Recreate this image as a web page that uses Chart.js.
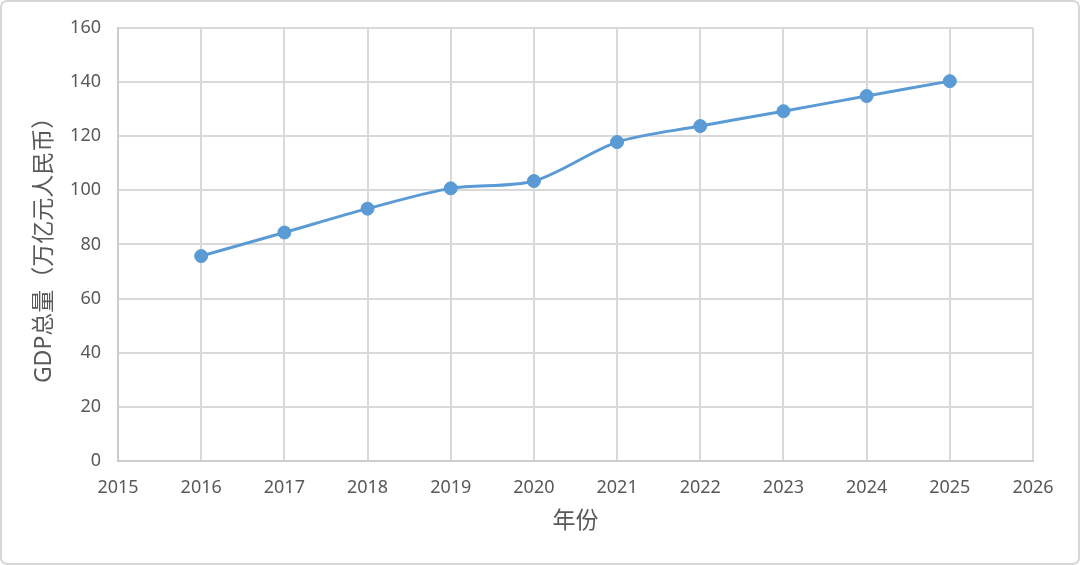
<!DOCTYPE html>
<html>
<head>
<meta charset="utf-8">
<script src="https://cdn.jsdelivr.net/npm/chart.js@4/dist/chart.umd.min.js"></script>
<style>
html,body{margin:0;padding:0;background:#fff;}
#wrap{width:1080px;height:565px;position:relative;}
</style>
</head>
<body>
<div id="wrap"><canvas id="c"></canvas></div>
<script>
// ---- data ----
const years = [2016, 2017, 2018, 2019, 2020, 2021, 2022, 2023, 2024, 2025];
const gdp = [75.7, 84.4, 93.2, 100.7, 103.4, 117.8, 123.7, 129.2, 134.8, 140.3];
const xMin = 2015, xMax = 2026;
const yMin = 0, yMax = 160, yStep = 20;
const yTitle = 'GDP总量（万亿元人民币）';
const xTitle = '年份';

const TEXT = '#595959';
const GRID = '#d9d9d9';
const BLUE = '#5B9BD5';
const FONT = "'Noto Sans', 'Noto Sans CJK SC', sans-serif";

const frame = {
  id: 'frame',
  beforeDraw(chart) {
    const c = chart.ctx;
    c.save();
    c.fillStyle = '#fff';
    c.fillRect(0, 0, chart.width, chart.height);
    c.strokeStyle = '#d6d6d6';
    c.lineWidth = 2;
    c.beginPath();
    c.roundRect(1, 1, chart.width - 2, chart.height - 2, 6);
    c.stroke();
    c.restore();
  }
};

new Chart(document.getElementById('c'), {
  type: 'line',
  data: {
    datasets: [{
      data: years.map((y, i) => ({ x: y, y: gdp[i] })),
      borderColor: BLUE,
      backgroundColor: BLUE,
      borderWidth: 3,
      pointRadius: 6.5,
      pointHoverRadius: 6.5,
      pointBorderWidth: 1,
      pointBackgroundColor: BLUE,
      pointBorderColor: BLUE,
      tension: 0.3,
      fill: false
    }]
  },
  options: {
    responsive: true,
    maintainAspectRatio: false,
    animation: false,
    layout: { padding: { left: 0, right: 47, top: 26, bottom: 0 } },
    plugins: { legend: { display: false }, tooltip: { enabled: false } },
    scales: {
      x: {
        type: 'linear',
        min: xMin, max: xMax,
        afterFit(s) { s.height = 104; },
        ticks: {
          stepSize: 1,
          padding: 16,
          color: TEXT,
          font: { family: FONT, size: 18 },
          callback: v => String(v)
        },
        grid: { color: GRID, lineWidth: 2, drawTicks: false },
        border: { color: '#cccccc', width: 2 },
        title: {
          display: true, text: xTitle, color: TEXT,
          font: { family: FONT, size: 23 },
          padding: { top: 0, bottom: 30 }
        }
      },
      y: {
        min: yMin, max: yMax,
        afterFit(s) { s.width = 118; },
        ticks: {
          stepSize: yStep,
          padding: 17,
          color: TEXT,
          font: { family: FONT, size: 18 }
        },
        grid: { color: GRID, lineWidth: 2, drawTicks: false },
        border: { color: '#cccccc', width: 2 },
        title: {
          display: true, text: yTitle, color: TEXT,
          font: { family: FONT, size: 23 },
          padding: { top: 31, bottom: 0 }
        }
      }
    }
  },
  plugins: [frame]
});
</script>
</body>
</html>
